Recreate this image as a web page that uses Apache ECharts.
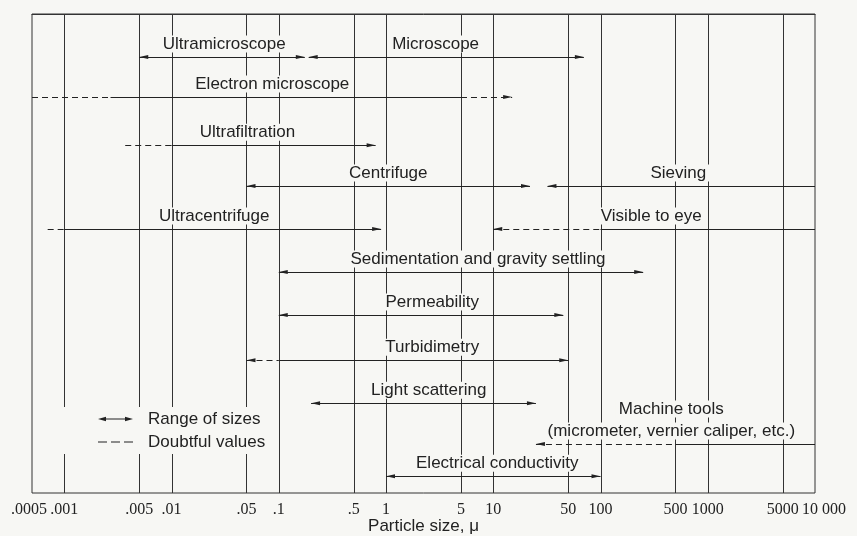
<!DOCTYPE html>
<html>
<head>
<meta charset="utf-8">
<title>Particle size ranges</title>
<script src="https://cdn.jsdelivr.net/npm/echarts@6/dist/echarts.min.js"></script>
<style>
  html, body { margin: 0; padding: 0; background: #f7f7f4; }
  #chart { width: 857px; height: 536px; }
</style>
</head>
<body>
<div id="chart"></div>
<script>
// grid lines / tick labels on the particle size axis (microns)
var tickValues = [0.0005, 0.001, 0.005, 0.01, 0.05, 0.1, 0.5, 1, 5, 10, 50, 100, 500, 1000, 5000, 10000];
var tickLabels = ['.0005', '.001', '.005', '.01', '.05', '.1', '.5', '1', '5', '10', '50', '100', '500', '1000', '5000', '10 000'];

// one entry per method
var methods = ['Ultramicroscope', 'Microscope', 'Electron microscope', 'Ultrafiltration', 'Centrifuge', 'Sieving',
  'Ultracentrifuge', 'Visible to eye', 'Sedimentation and gravity settling', 'Permeability', 'Turbidimetry',
  'Light scattering', 'Machine tools\n(micrometer, vernier caliper, etc.)', 'Electrical conductivity'];
var rowOf = [1, 1, 1.93, 3.05, 4, 4, 5, 5, 6, 7, 8.05, 9.05, 10, 10.75];
// firm range (solid line)
var sureLow = [0.005, 0.19, 0.0027, 0.01, 0.05, 32, 0.001, 100, 0.1, 0.1, 0.1, 0.2, 500, 1];
var sureHigh = [0.175, 70, 5, 0.8, 22, 10000, 0.9, 10000, 250, 45, 50, 25, 10000, 100];
// doubtful extension (dashed line), null where there is none
var doubtLow = [null, null, 0.0005, 0.0037, null, null, 0.0007, 10, null, null, 0.05, null, 25, null];
var doubtHigh = [null, null, 15, null, null, null, null, null, null, null, null, null, null, null];
// arrowheads at the low / high end
var headLow = [1, 1, 0, 0, 1, 1, 0, 1, 1, 1, 1, 1, 1, 1];
var headHigh = [1, 1, 1, 1, 1, 0, 1, 0, 1, 1, 1, 1, 0, 1];
// where the name sits along the axis
var labelAt = [0.031, 2.9, 0.087, 0.051, 1.05, 531, 0.025, 297, 7.2, 2.7, 2.7, 2.5, 457, 10.9];

var bg = '#f7f7f4';
var ink = '#222';
var font = "'Liberation Sans', Arial, sans-serif";
var numFont = "'Liberation Serif', 'Times New Roman', serif";

function end(v, row, head) {
  return {
    coord: [v, row],
    symbol: head ? 'triangle' : 'none',
    symbolSize: [4, 9],
    symbolOffset: [0, '50%']
  };
}

var solidSegs = [];
var dashSegs = [];
methods.forEach(function (name, i) {
  var r = rowOf[i];
  solidSegs.push([
    end(sureLow[i], r, doubtLow[i] == null && headLow[i]),
    end(sureHigh[i], r, doubtHigh[i] == null && headHigh[i])
  ]);
  if (doubtLow[i] != null) {
    dashSegs.push([end(doubtLow[i], r, headLow[i]), end(sureLow[i], r, false)]);
  }
  if (doubtHigh[i] != null) {
    dashSegs.push([end(sureHigh[i], r, false), end(doubtHigh[i], r, headHigh[i])]);
  }
});

function tickText(value) {
  var best = 0;
  for (var i = 1; i < tickValues.length; i++) {
    if (Math.abs(Math.log10(tickValues[i] / value)) < Math.abs(Math.log10(tickValues[best] / value))) best = i;
  }
  if (best == 0) return '{first|' + tickLabels[best] + '}';
  if (best == tickValues.length - 1) return '{last|' + tickLabels[best] + '}';
  return tickLabels[best];
}

// nudge the end ticks inward a hair so the axis does not drop them
var labelTicks = tickValues.map(function (v, i) {
  if (i == 0) return v * 1.000001;
  if (i == tickValues.length - 1) return v * 0.999999;
  return v;
});

var arrowIcon = 'path://M0,3L8,0.8L8,2.5L27,2.5L27,0.8L35,3L27,5.2L27,3.5L8,3.5L8,5.2Z';
var dashIcon = 'path://M0,2.4h9v1.2h-9z M13,2.4h9v1.2h-9z M26,2.4h9v1.2h-9z';

var chartDom = document.getElementById('chart');
var myChart = echarts.init(chartDom);
var option = {
  backgroundColor: bg,
  animation: false,
  textStyle: { fontFamily: font },
  grid: {
    left: 32, right: 42, top: 14, bottom: 43,
    show: true, borderColor: '#333', borderWidth: 1,
    outerBoundsMode: 'none'
  },
  legend: {
    orient: 'vertical', left: 62, top: 407, z: 4,
    selectedMode: false,
    backgroundColor: bg,
    padding: [2, 6, 2, 36],
    itemGap: 3, itemWidth: 35, itemHeight: 6,
    itemStyle: { color: ink, borderWidth: 0 },
    textStyle: { fontFamily: font, fontSize: 17, color: ink, lineHeight: 20, padding: [0, 0, 0, 10] },
    data: [
      { name: 'Range of sizes', icon: arrowIcon },
      { name: 'Doubtful values', icon: dashIcon }
    ]
  },
  xAxis: {
    type: 'log', logBase: 10, min: 0.0005, max: 10000,
    name: 'Particle size, \u03bc',
    nameLocation: 'middle', nameGap: 25, nameMoveOverlap: false,
    nameTextStyle: { fontFamily: font, fontSize: 17, color: ink },
    axisLine: { show: true, lineStyle: { color: '#333', width: 1 } },
    axisTick: { show: false },
    minorTick: { show: false },
    splitLine: { show: false },
    axisLabel: {
      customValues: labelTicks,
      margin: 9,
      hideOverlap: false,
      showMinLabel: true,
      showMaxLabel: true,
      fontFamily: numFont, fontSize: 16, color: ink,
      formatter: tickText,
      rich: {
        first: { fontFamily: numFont, fontSize: 16, color: ink, padding: [0, 6, 0, 0] },
        last: { fontFamily: numFont, fontSize: 16, color: ink, padding: [0, 0, 0, 18] }
      }
    }
  },
  yAxis: {
    type: 'value', inverse: true, min: 0, max: 11.14, show: false
  },
  series: [
    {
      // vertical grid lines, one per tick inside the frame
      name: 'grid', type: 'custom', z: 1, silent: true,
      data: tickValues.slice(1, -1).map(function (v) { return [v, 0]; }),
      encode: { x: 0, y: 1 },
      renderItem: function (params, api) {
        var x = Math.round(api.coord([api.value(0), 0])[0]) + 0.5;
        var cs = params.coordSys;
        return {
          type: 'line',
          shape: { x1: x, y1: cs.y, x2: x, y2: cs.y + cs.height },
          style: { stroke: '#333', lineWidth: 1 }
        };
      }
    },
    {
      name: 'labels', type: 'scatter', z: 3, silent: true, symbolSize: 0,
      itemStyle: { opacity: 1 },
      data: methods.map(function (n, i) { return { name: n, value: [labelAt[i], rowOf[i]] }; }),
      label: {
        show: true, position: 'top', distance: 2,
        formatter: function (p) {
          return p.name.split('\n').map(function (s) { return '{t|' + s + '}'; }).join('\n');
        },
        rich: {
          t: { fontFamily: font, fontSize: 17, lineHeight: 22, color: ink, backgroundColor: bg, padding: [0, 3] }
        }
      }
    },
    {
      name: 'Range of sizes', type: 'line', z: 6, silent: true, data: [],
      itemStyle: { color: ink },
      markLine: {
        z: 6, silent: true, symbol: ['none', 'none'], label: { show: false },
        itemStyle: { color: ink },
        lineStyle: { color: ink, width: 1.2, type: 'solid' },
        emphasis: { disabled: true },
        data: solidSegs
      }
    },
    {
      name: 'Doubtful values', type: 'line', z: 6, silent: true, data: [],
      itemStyle: { color: ink },
      markLine: {
        z: 6, silent: true, symbol: ['none', 'none'], label: { show: false },
        itemStyle: { color: ink },
        lineStyle: { color: ink, width: 1.2, type: [6, 4] },
        emphasis: { disabled: true },
        data: dashSegs
      }
    }
  ]
};

option && myChart.setOption(option);
</script>
</body>
</html>
